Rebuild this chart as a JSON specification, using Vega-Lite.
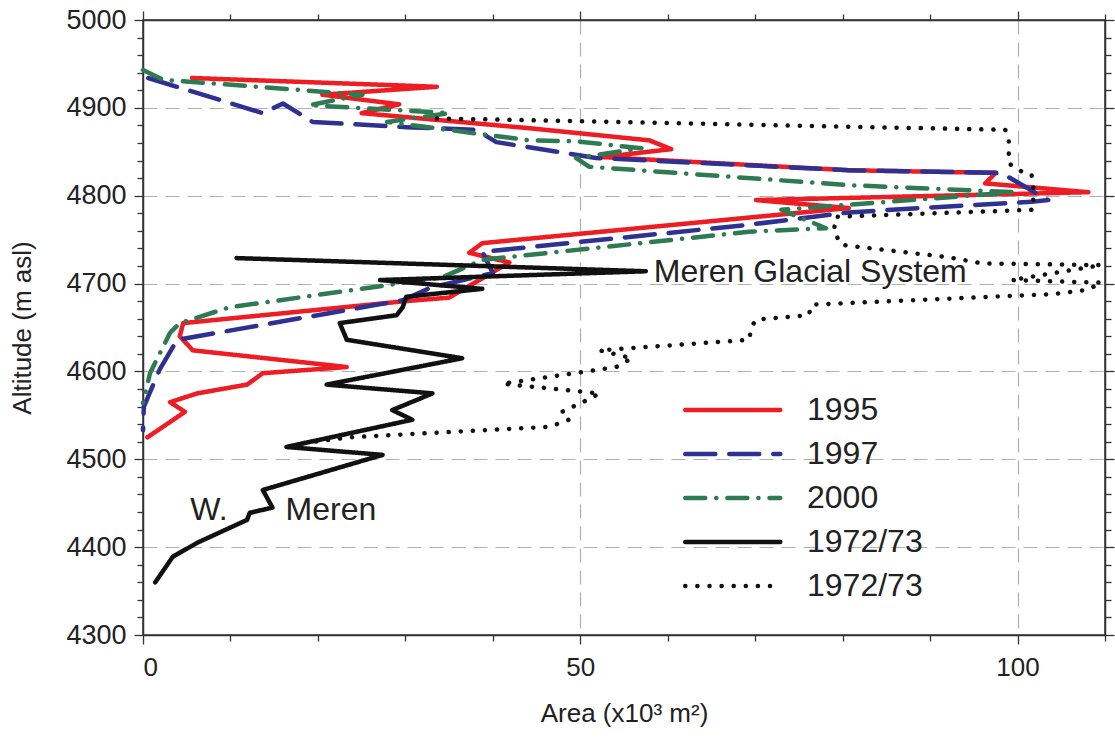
{
  "$schema": "https://vega.github.io/schema/vega-lite/v6.json",
  "width": 962,
  "height": 615,
  "autosize": {"type": "none"},
  "padding": {"left": 143, "top": 20, "right": 10, "bottom": 104},
  "background": "white",
  "config": {"view": {"stroke": "#333", "strokeWidth": 1.5}, "font": "Liberation Sans"},
  "datasets": {
    "lines": [
      {"series": "1995", "i": 1, "area": 5.6, "alt": 4934},
      {"series": "1995", "i": 2, "area": 33.6, "alt": 4924},
      {"series": "1995", "i": 3, "area": 20.5, "alt": 4915},
      {"series": "1995", "i": 4, "area": 29.3, "alt": 4904},
      {"series": "1995", "i": 5, "area": 25, "alt": 4894},
      {"series": "1995", "i": 6, "area": 44, "alt": 4877},
      {"series": "1995", "i": 7, "area": 57.9, "alt": 4863},
      {"series": "1995", "i": 8, "area": 60.4, "alt": 4853},
      {"series": "1995", "i": 9, "area": 52.5, "alt": 4844},
      {"series": "1995", "i": 10, "area": 80.7, "alt": 4829},
      {"series": "1995", "i": 11, "area": 97.5, "alt": 4826},
      {"series": "1995", "i": 12, "area": 96.3, "alt": 4814},
      {"series": "1995", "i": 13, "area": 108.1, "alt": 4804},
      {"series": "1995", "i": 14, "area": 70.1, "alt": 4795},
      {"series": "1995", "i": 15, "area": 80.7, "alt": 4786},
      {"series": "1995", "i": 16, "area": 38.8, "alt": 4746},
      {"series": "1995", "i": 17, "area": 37.3, "alt": 4735},
      {"series": "1995", "i": 18, "area": 41.9, "alt": 4724},
      {"series": "1995", "i": 19, "area": 35, "alt": 4684},
      {"series": "1995", "i": 20, "area": 30, "alt": 4680},
      {"series": "1995", "i": 21, "area": 4.6, "alt": 4655},
      {"series": "1995", "i": 22, "area": 4.2, "alt": 4640},
      {"series": "1995", "i": 23, "area": 5.7, "alt": 4624},
      {"series": "1995", "i": 24, "area": 23.3, "alt": 4605},
      {"series": "1995", "i": 25, "area": 13.7, "alt": 4598},
      {"series": "1995", "i": 26, "area": 11.9, "alt": 4585},
      {"series": "1995", "i": 27, "area": 6.2, "alt": 4575},
      {"series": "1995", "i": 28, "area": 3.1, "alt": 4565},
      {"series": "1995", "i": 29, "area": 4.8, "alt": 4554},
      {"series": "1995", "i": 30, "area": 0.5, "alt": 4525},

      {"series": "1997", "i": 1, "area": 0.6, "alt": 4934},
      {"series": "1997", "i": 2, "area": 13.7, "alt": 4894},
      {"series": "1997", "i": 3, "area": 16, "alt": 4905},
      {"series": "1997", "i": 4, "area": 19.4, "alt": 4884},
      {"series": "1997", "i": 5, "area": 30.1, "alt": 4878},
      {"series": "1997", "i": 6, "area": 38.1, "alt": 4875},
      {"series": "1997", "i": 7, "area": 40.4, "alt": 4861},
      {"series": "1997", "i": 8, "area": 51.8, "alt": 4843},
      {"series": "1997", "i": 9, "area": 80.7, "alt": 4829},
      {"series": "1997", "i": 10, "area": 97.5, "alt": 4826},
      {"series": "1997", "i": 11, "area": 98.5, "alt": 4824},
      {"series": "1997", "i": 12, "area": 103.5, "alt": 4795},
      {"series": "1997", "i": 13, "area": 101.6, "alt": 4793},
      {"series": "1997", "i": 14, "area": 90.6, "alt": 4787},
      {"series": "1997", "i": 15, "area": 80.7, "alt": 4781},
      {"series": "1997", "i": 16, "area": 69.3, "alt": 4767},
      {"series": "1997", "i": 17, "area": 38.8, "alt": 4736},
      {"series": "1997", "i": 18, "area": 40, "alt": 4712},
      {"series": "1997", "i": 19, "area": 32.8, "alt": 4695},
      {"series": "1997", "i": 20, "area": 29.7, "alt": 4681},
      {"series": "1997", "i": 21, "area": 3.9, "alt": 4636},
      {"series": "1997", "i": 22, "area": 1.9, "alt": 4602},
      {"series": "1997", "i": 23, "area": 0.1, "alt": 4560},
      {"series": "1997", "i": 24, "area": 0, "alt": 4533},

      {"series": "2000", "i": 1, "area": 0, "alt": 4943},
      {"series": "2000", "i": 2, "area": 2.3, "alt": 4932},
      {"series": "2000", "i": 3, "area": 25.1, "alt": 4915},
      {"series": "2000", "i": 4, "area": 19, "alt": 4903},
      {"series": "2000", "i": 5, "area": 35, "alt": 4894},
      {"series": "2000", "i": 6, "area": 27.9, "alt": 4884},
      {"series": "2000", "i": 7, "area": 44.2, "alt": 4863},
      {"series": "2000", "i": 8, "area": 49.5, "alt": 4862},
      {"series": "2000", "i": 9, "area": 57, "alt": 4854},
      {"series": "2000", "i": 10, "area": 49.5, "alt": 4843},
      {"series": "2000", "i": 11, "area": 51, "alt": 4833},
      {"series": "2000", "i": 12, "area": 80.7, "alt": 4812},
      {"series": "2000", "i": 13, "area": 99.8, "alt": 4804},
      {"series": "2000", "i": 14, "area": 73, "alt": 4784},
      {"series": "2000", "i": 15, "area": 78.1, "alt": 4763},
      {"series": "2000", "i": 16, "area": 69.3, "alt": 4759},
      {"series": "2000", "i": 17, "area": 38.8, "alt": 4727},
      {"series": "2000", "i": 18, "area": 34.2, "alt": 4707},
      {"series": "2000", "i": 19, "area": 9.9, "alt": 4673},
      {"series": "2000", "i": 20, "area": 4.2, "alt": 4655},
      {"series": "2000", "i": 21, "area": 3.1, "alt": 4644},
      {"series": "2000", "i": 22, "area": 0.8, "alt": 4598},
      {"series": "2000", "i": 23, "area": 0, "alt": 4564},

      {"series": "1972/73", "i": 1, "area": 10.7, "alt": 4729},
      {"series": "1972/73", "i": 2, "area": 57.5, "alt": 4714},
      {"series": "1972/73", "i": 3, "area": 27.1, "alt": 4704},
      {"series": "1972/73", "i": 4, "area": 38.8, "alt": 4694},
      {"series": "1972/73", "i": 5, "area": 30.1, "alt": 4685},
      {"series": "1972/73", "i": 6, "area": 29.7, "alt": 4673},
      {"series": "1972/73", "i": 7, "area": 29, "alt": 4664},
      {"series": "1972/73", "i": 8, "area": 22.5, "alt": 4655},
      {"series": "1972/73", "i": 9, "area": 23.3, "alt": 4636},
      {"series": "1972/73", "i": 10, "area": 36.5, "alt": 4615},
      {"series": "1972/73", "i": 11, "area": 21, "alt": 4585},
      {"series": "1972/73", "i": 12, "area": 33.1, "alt": 4575},
      {"series": "1972/73", "i": 13, "area": 28.5, "alt": 4556},
      {"series": "1972/73", "i": 14, "area": 30.8, "alt": 4545},
      {"series": "1972/73", "i": 15, "area": 16.4, "alt": 4514},
      {"series": "1972/73", "i": 16, "area": 27.4, "alt": 4505},
      {"series": "1972/73", "i": 17, "area": 13.7, "alt": 4465},
      {"series": "1972/73", "i": 18, "area": 14.8, "alt": 4445},
      {"series": "1972/73", "i": 19, "area": 12.2, "alt": 4439},
      {"series": "1972/73", "i": 20, "area": 11.9, "alt": 4431},
      {"series": "1972/73", "i": 21, "area": 6.2, "alt": 4405},
      {"series": "1972/73", "i": 22, "area": 3.4, "alt": 4389},
      {"series": "1972/73", "i": 23, "area": 1.4, "alt": 4360},

      {"series": "1972/73 ", "i": 1, "area": 33.6, "alt": 4888},
      {"series": "1972/73 ", "i": 2, "area": 98.6, "alt": 4875},
      {"series": "1972/73 ", "i": 3, "area": 99, "alt": 4863},
      {"series": "1972/73 ", "i": 4, "area": 99, "alt": 4837},
      {"series": "1972/73 ", "i": 5, "area": 100.1, "alt": 4829},
      {"series": "1972/73 ", "i": 6, "area": 101.6, "alt": 4824},
      {"series": "1972/73 ", "i": 7, "area": 101.8, "alt": 4810},
      {"series": "1972/73 ", "i": 8, "area": 101.8, "alt": 4784},
      {"series": "1972/73 ", "i": 9, "area": 79.2, "alt": 4776},
      {"series": "1972/73 ", "i": 10, "area": 79, "alt": 4759},
      {"series": "1972/73 ", "i": 11, "area": 79.9, "alt": 4744},
      {"series": "1972/73 ", "i": 12, "area": 92.1, "alt": 4730},
      {"series": "1972/73 ", "i": 13, "area": 95.9, "alt": 4723},
      {"series": "1972/73 ", "i": 14, "area": 109.6, "alt": 4721},
      {"series": "1972/73 ", "i": 15, "area": 99.3, "alt": 4704},
      {"series": "1972/73 ", "i": 16, "area": 109.6, "alt": 4701},
      {"series": "1972/73 ", "i": 17, "area": 108, "alt": 4693},
      {"series": "1972/73 ", "i": 18, "area": 104, "alt": 4688},
      {"series": "1972/73 ", "i": 19, "area": 76.5, "alt": 4676},
      {"series": "1972/73 ", "i": 20, "area": 76.1, "alt": 4664},
      {"series": "1972/73 ", "i": 21, "area": 70.1, "alt": 4659},
      {"series": "1972/73 ", "i": 22, "area": 69.6, "alt": 4651},
      {"series": "1972/73 ", "i": 23, "area": 69.3, "alt": 4636},
      {"series": "1972/73 ", "i": 24, "area": 52.2, "alt": 4624},
      {"series": "1972/73 ", "i": 25, "area": 55.9, "alt": 4615},
      {"series": "1972/73 ", "i": 26, "area": 54.1, "alt": 4605},
      {"series": "1972/73 ", "i": 27, "area": 41.1, "alt": 4586},
      {"series": "1972/73 ", "i": 28, "area": 52.2, "alt": 4575},
      {"series": "1972/73 ", "i": 29, "area": 50.7, "alt": 4567},
      {"series": "1972/73 ", "i": 30, "area": 47.9, "alt": 4554},
      {"series": "1972/73 ", "i": 31, "area": 48.7, "alt": 4545},
      {"series": "1972/73 ", "i": 32, "area": 46.5, "alt": 4537},
      {"series": "1972/73 ", "i": 33, "area": 23.6, "alt": 4525},
      {"series": "1972/73 ", "i": 34, "area": 18, "alt": 4518}
    ],
    "labels": [
      {"area": 58.4, "alt": 4713, "label": "Meren Glacial System"},
      {"area": 5.4, "alt": 4442, "label": "W."},
      {"area": 16.3, "alt": 4442, "label": "Meren"}
    ]
  },
  "layer": [
    {
      "data": {"name": "lines"},
      "mark": {"type": "line", "strokeCap": "round", "strokeJoin": "round"},
      "encoding": {
        "x": {
          "field": "area", "type": "quantitative",
          "scale": {"domain": [0, 110], "nice": false, "zero": false},
          "axis": {
            "orient": "bottom",
            "values": [0, 10, 20, 30, 40, 50, 60, 70, 80, 90, 100, 110],
            "labelExpr": "datum.value % 50 === 0 ? datum.label : ''",
            "format": "d",
            "grid": true,
            "gridColor": "#b0b0b0",
            "gridDash": [14, 8],
            "gridWidth": 1.2,
            "gridOpacity": {"condition": {"test": "datum.value % 50 === 0 && datum.value > 0", "value": 1}, "value": 0},
            "tickSize": {"condition": {"test": "datum.value % 50 === 0", "value": 9}, "value": 6},
            "tickColor": "#333", "tickWidth": 1.3,
            "domainColor": "#333", "domainWidth": 1.5,
            "labelFontSize": 26, "labelColor": "#222", "labelPadding": 10,
            "title": "Area (x10³ m²)", "titleFontSize": 26, "titleFontWeight": "normal", "titleColor": "#222", "titlePadding": 20
          }
        },
        "y": {
          "field": "alt", "type": "quantitative",
          "scale": {"domain": [4300, 5000], "nice": false, "zero": false},
          "axis": {
            "orient": "left",
            "values": [4300, 4320, 4340, 4360, 4380, 4400, 4420, 4440, 4460, 4480, 4500, 4520, 4540, 4560, 4580, 4600, 4620, 4640, 4660, 4680, 4700, 4720, 4740, 4760, 4780, 4800, 4820, 4840, 4860, 4880, 4900, 4920, 4940, 4960, 4980, 5000],
            "labelExpr": "datum.value % 100 === 0 ? datum.label : ''",
            "format": "d",
            "grid": true,
            "gridColor": "#b0b0b0",
            "gridDash": [14, 8],
            "gridWidth": 1.2,
            "gridOpacity": {"condition": {"test": "datum.value % 100 === 0 && datum.value > 4300 && datum.value < 5000", "value": 1}, "value": 0},
            "tickSize": {"condition": {"test": "datum.value % 100 === 0", "value": 9}, "value": 6},
            "tickColor": "#333", "tickWidth": 1.3,
            "domainColor": "#333", "domainWidth": 1.5,
            "labelFontSize": 27, "labelColor": "#222", "labelPadding": 8,
            "title": "Altitude (m asl)", "titleFontSize": 26, "titleFontWeight": "normal", "titleColor": "#222", "titlePadding": 30
          }
        },
        "order": {"field": "i", "type": "quantitative"},
        "strokeWidth": {
          "field": "series", "type": "nominal",
          "scale": {"domain": ["1995", "1997", "2000", "1972/73", "1972/73 "], "range": [4.5, 4.5, 4.5, 4.5, 6]},
          "legend": null
        },
        "color": {
          "field": "series", "type": "nominal",
          "scale": {"domain": ["1995", "1997", "2000", "1972/73", "1972/73 "], "range": ["#ee1d23", "#2e3192", "#2e7a52", "#111111", "#111111"]},
          "legend": {
            "title": null, "orient": "none", "legendX": 540, "legendY": 364,
            "symbolType": "M-1,0H3", "symbolSize": 2256, "symbolStrokeWidth": 4.5,
            "labelFontSize": 32, "labelColor": "#222", "labelOffset": 72, "rowPadding": 2,
            "encode": {"symbols": {"update": {"strokeCap": {"value": "round"}}}}
          }
        },
        "strokeDash": {
          "field": "series", "type": "nominal",
          "scale": {"domain": ["1995", "1997", "2000", "1972/73", "1972/73 "], "range": [[1, 0], [30, 14], [20, 11, 0.1, 11], [1, 0], [0.1, 12]]},
          "legend": {
            "title": null, "orient": "none", "legendX": 540, "legendY": 364,
            "symbolType": "M-1,0H3", "symbolSize": 2256, "symbolStrokeWidth": 4.5,
            "labelFontSize": 32, "labelColor": "#222", "labelOffset": 72, "rowPadding": 2,
            "encode": {"symbols": {"update": {"strokeCap": {"value": "round"}}}}
          }
        }
      }
    },
    {
      "data": {"name": "labels"},
      "mark": {"type": "text", "align": "left", "baseline": "middle", "fontSize": 32, "color": "#222"},
      "encoding": {
        "x": {
          "field": "area", "type": "quantitative",
          "axis": {
            "orient": "top", "values": [0, 10, 20, 30, 40, 50, 60, 70, 80, 90, 100, 110],
            "labels": false, "grid": false, "title": null,
            "tickSize": {"condition": {"test": "datum.value % 50 === 0", "value": 9}, "value": 6},
            "tickColor": "#333", "tickWidth": 1.3, "domainColor": "#333", "domainWidth": 1.5
          }
        },
        "y": {
          "field": "alt", "type": "quantitative",
          "axis": {
            "orient": "right",
            "values": [4300, 4320, 4340, 4360, 4380, 4400, 4420, 4440, 4460, 4480, 4500, 4520, 4540, 4560, 4580, 4600, 4620, 4640, 4660, 4680, 4700, 4720, 4740, 4760, 4780, 4800, 4820, 4840, 4860, 4880, 4900, 4920, 4940, 4960, 4980, 5000],
            "labels": false, "grid": false, "title": null,
            "tickSize": {"condition": {"test": "datum.value % 100 === 0", "value": 9}, "value": 6},
            "tickColor": "#333", "tickWidth": 1.3, "domainColor": "#333", "domainWidth": 1.5
          }
        },
        "text": {"field": "label", "type": "nominal"}
      }
    }
  ],
  "resolve": {"axis": {"x": "independent", "y": "independent"}}
}
